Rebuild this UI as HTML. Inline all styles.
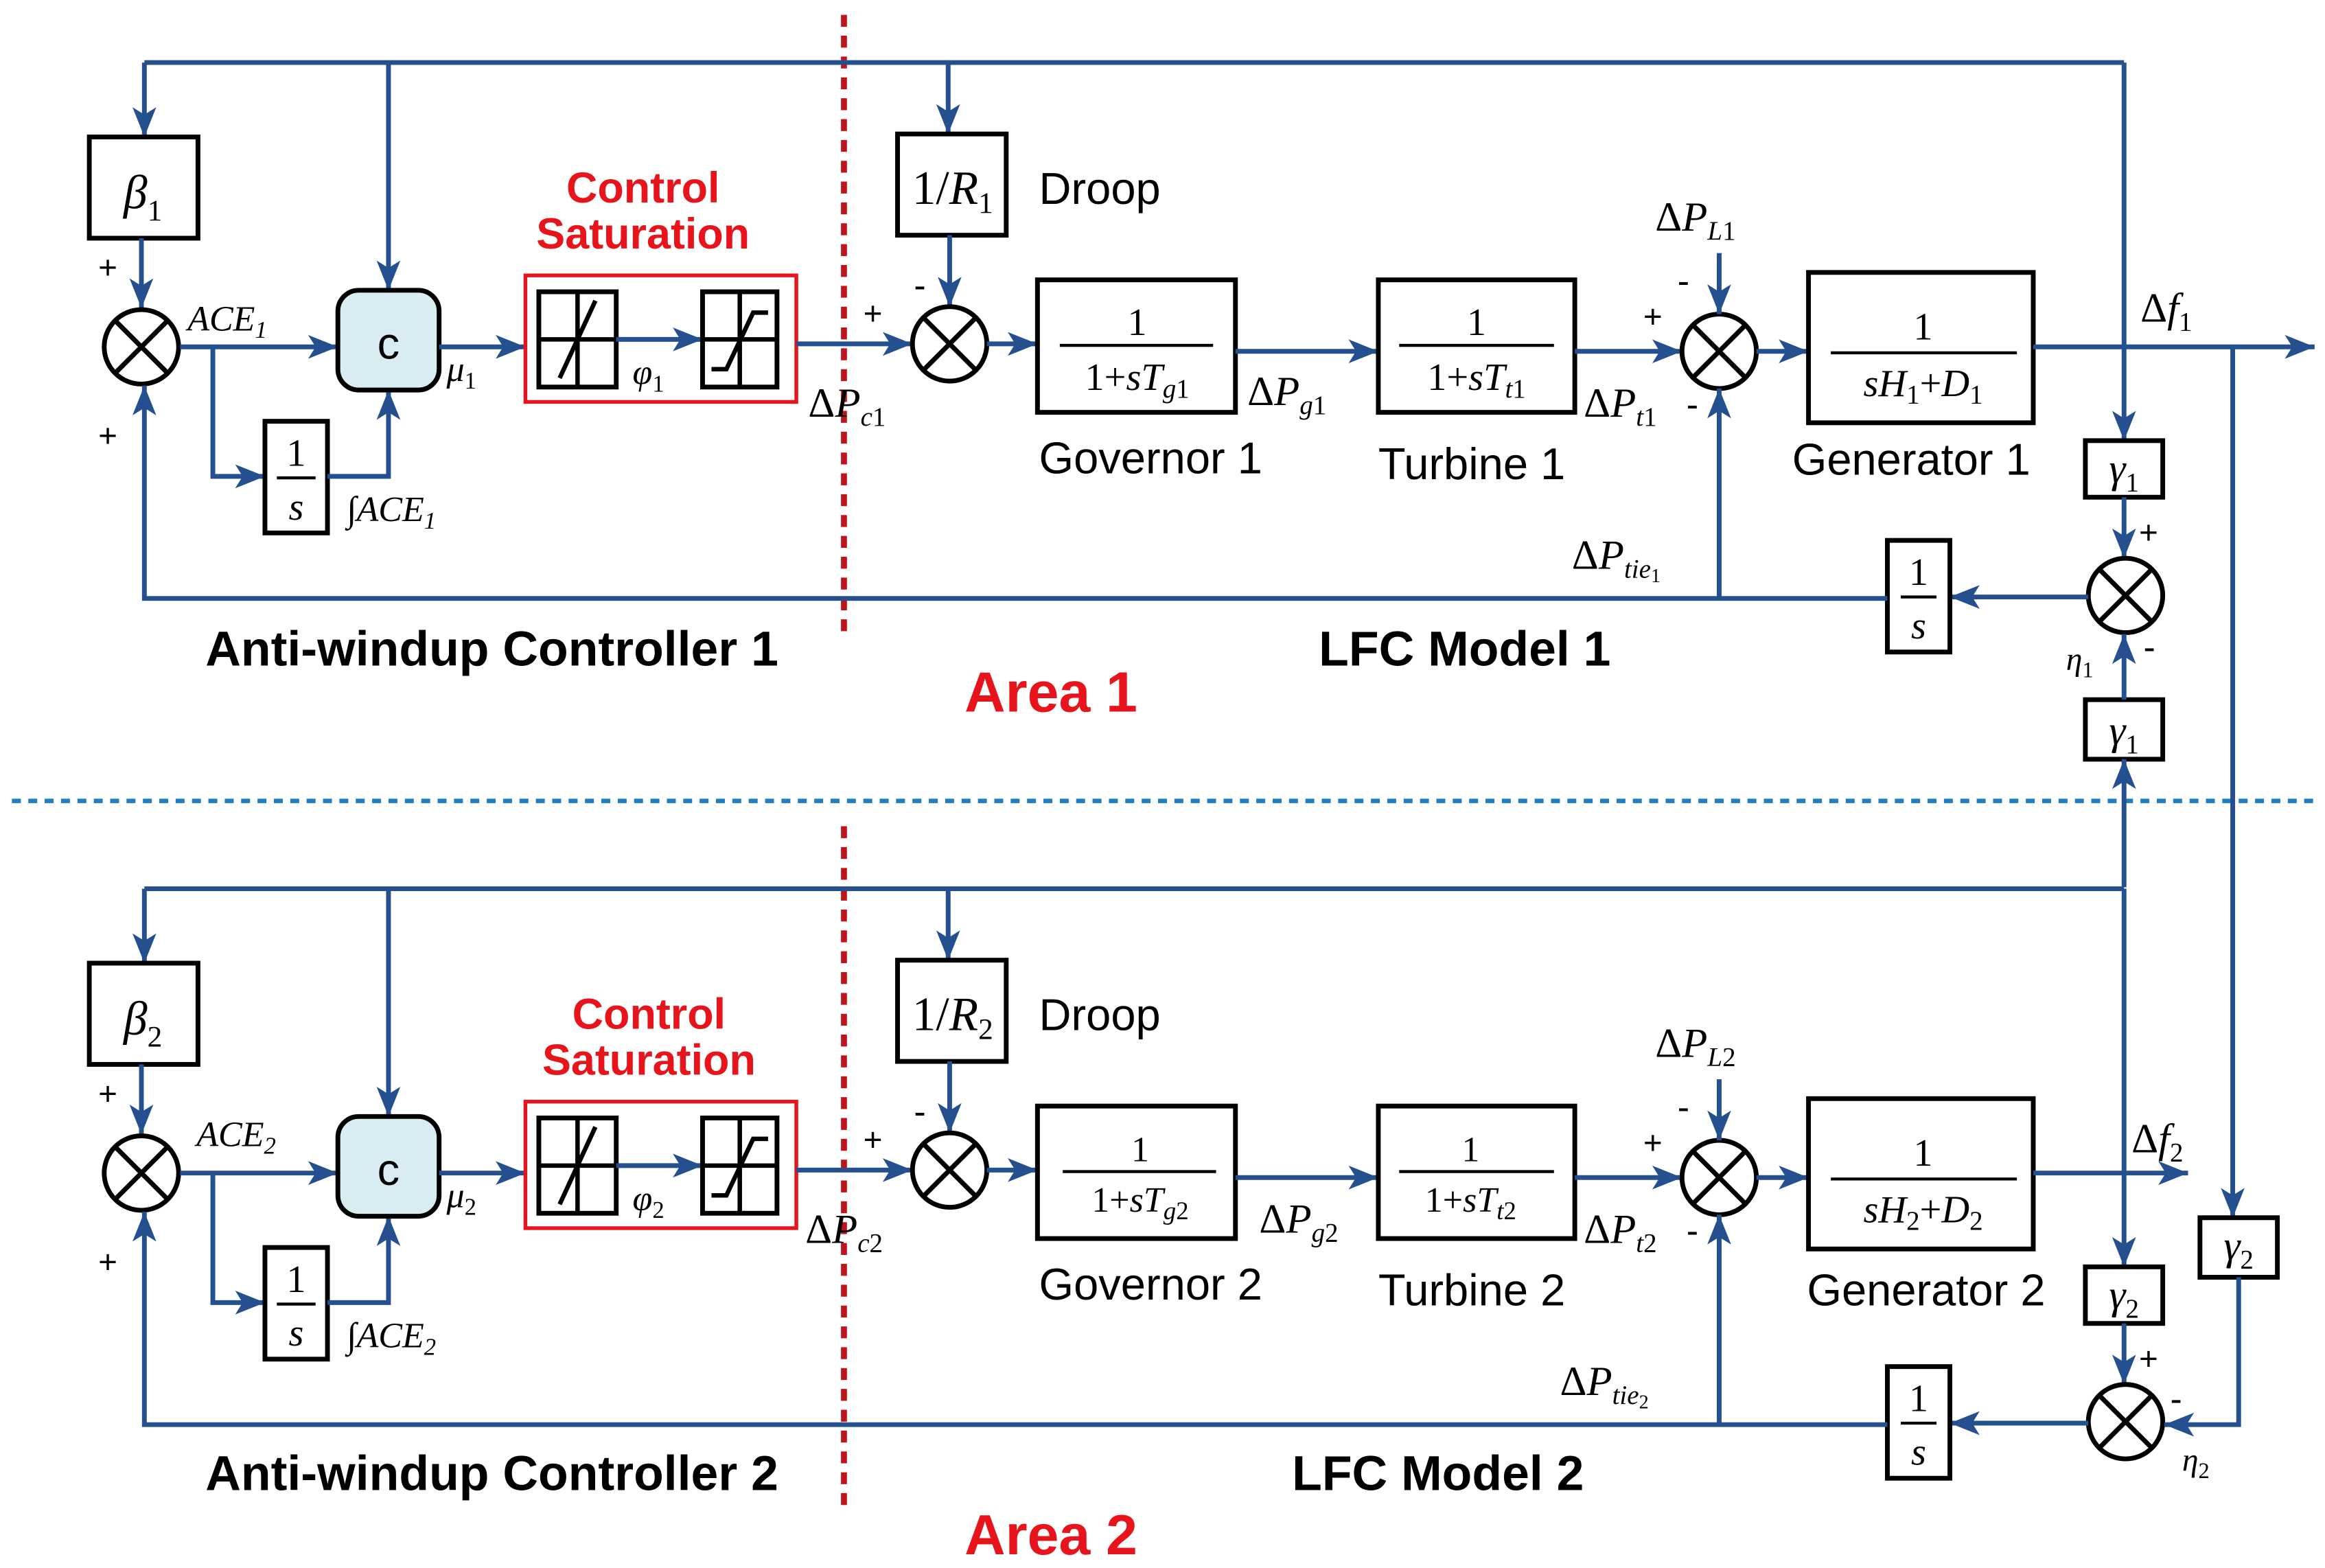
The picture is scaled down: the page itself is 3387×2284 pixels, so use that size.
<!DOCTYPE html>
<html><head><meta charset="utf-8"><style>
html,body{margin:0;padding:0;background:#fff;}
svg{display:block}
.b{stroke:#24508f;stroke-width:3.2;fill:none}
.k{stroke:#000;stroke-width:3.2;fill:#fff}
.m{font-family:"Liberation Serif",serif;font-style:italic;fill:#000}
.r{font-family:"Liberation Serif",serif;fill:#000}
.s{font-family:"Liberation Sans",sans-serif;fill:#000}
.bd{font-family:"Liberation Sans",sans-serif;font-weight:bold;fill:#000}
.red{font-family:"Liberation Sans",sans-serif;font-weight:bold;fill:#e8141c}
</style></head><body>
<svg width="3387" height="2284" viewBox="0 0 1562 1053.3" preserveAspectRatio="none" xmlns="http://www.w3.org/2000/svg">
<defs>
<marker id="a" markerUnits="userSpaceOnUse" markerWidth="22" markerHeight="18" refX="20" refY="9" orient="auto"><path d="M0,1 L20,9 L0,17 L5,9 Z" fill="#24508f"/></marker>
<g id="sum"><circle r="25" fill="#fff" stroke="#000" stroke-width="3.2"/><path d="M-17.7,-17.7 L17.7,17.7 M-17.7,17.7 L17.7,-17.7" stroke="#000" stroke-width="3.2"/></g>
<g id="area">
 <path class="b" d="M97,42 H1427"/>
 <path class="b" d="M97,42 V92" marker-end="url(#a)"/>
 <path class="b" d="M261,42 V195" marker-end="url(#a)"/>
 <path class="b" d="M637,42 V90" marker-end="url(#a)"/>
 <path class="b" d="M1427,42 V296" marker-end="url(#a)"/>
 <rect class="k" x="60" y="92" width="73" height="68"/>
 <path class="b" d="M95,160 V207" marker-end="url(#a)"/>
 <use href="#sum" x="95" y="233"/>
 <text class="s" x="66" y="187" font-size="22">+</text>
 <text class="s" x="66" y="300" font-size="22">+</text>
 <path class="b" d="M121,233 H227" marker-end="url(#a)"/>
 <path class="b" d="M143,233 V320 H178" marker-end="url(#a)"/>
 <rect class="k" x="178" y="283" width="42" height="75"/>
 <text class="r" x="199" y="313" font-size="26" text-anchor="middle">1</text>
 <path d="M186,321 H212" stroke="#000" stroke-width="2"/>
 <text class="m" x="199" y="349" font-size="26" text-anchor="middle">s</text>
 <path class="b" d="M220,320 H261 V262" marker-end="url(#a)"/>
 <rect x="227" y="195" width="68" height="67" rx="14" fill="#d8ecf2" stroke="#000" stroke-width="3.2"/>
 <text class="s" x="261" y="241" font-size="30" text-anchor="middle">c</text>
 <path class="b" d="M295,233 H353" marker-end="url(#a)"/>
 <rect x="353" y="185" width="182" height="85" fill="#fff" stroke="#e8141c" stroke-width="2.5"/>
 <rect class="k" x="362" y="196" width="52" height="64"/>
 <path d="M388,196 V260 M362,228 H414 M376,254 L400,202" stroke="#000" stroke-width="3" fill="none"/>
 <path class="b" d="M414,228 H472" marker-end="url(#a)"/>
 <rect class="k" x="472" y="196" width="50" height="64"/>
 <path d="M497,196 V260 M472,228 H522 M478,248 H488 L506,210 H516" stroke="#000" stroke-width="3" fill="none"/>
 <path class="b" d="M535,231 H613" marker-end="url(#a)"/>
 <text class="s" x="580" y="218" font-size="22">+</text>
 <rect class="k" x="603" y="90" width="73" height="68"/>
 <path class="b" d="M638,158 V206" marker-end="url(#a)"/>
 <text class="s" x="614" y="200" font-size="24">-</text>
 <use href="#sum" x="638" y="231"/>
 <text class="s" x="698" y="137" font-size="30">Droop</text>
 <path class="b" d="M663,231 H697" marker-end="url(#a)"/>
 <rect class="k" x="697" y="188" width="133" height="89"/>
 <path class="b" d="M830,236 H926" marker-end="url(#a)"/>
 <rect class="k" x="926" y="188" width="132" height="89"/>
 <path class="b" d="M1058,236 H1130" marker-end="url(#a)"/>
 <use href="#sum" x="1155" y="236"/>
 <path class="b" d="M1155,170 V211" marker-end="url(#a)"/>
 <text class="s" x="1127" y="197" font-size="24">-</text>
 <text class="s" x="1104" y="220" font-size="22">+</text>
 <text class="s" x="1133" y="280" font-size="24">-</text>
 <path class="b" d="M1180,236 H1215" marker-end="url(#a)"/>
 <rect class="k" x="1215" y="183" width="151" height="101"/>
 <rect class="k" x="1401" y="296" width="52" height="38"/>
 <path class="b" d="M1427,334 V375" marker-end="url(#a)"/>
 <text class="s" x="1437" y="365" font-size="22">+</text>
 <use href="#sum" x="1428" y="400"/>
 <path class="b" d="M1403,401 H1310" marker-end="url(#a)"/>
 <rect class="k" x="1268" y="363" width="42" height="75"/>
 <text class="r" x="1289" y="393" font-size="26" text-anchor="middle">1</text>
 <path d="M1277,401 H1301" stroke="#000" stroke-width="2"/>
 <text class="m" x="1289" y="429" font-size="26" text-anchor="middle">s</text>
 <path class="b" d="M1268,402 H97 V259" marker-end="url(#a)"/>
 <path class="b" d="M1155,402 V261" marker-end="url(#a)"/>
</g>
</defs>

<path d="M567,10 V430 M567,555 V1015" stroke="#c0141c" stroke-width="4" stroke-dasharray="8,6" fill="none"/>
<path d="M8,538 H1556" stroke="#1f7fc4" stroke-width="3" stroke-dasharray="6,5" fill="none"/>

<use href="#area"/>
<use href="#area" y="555"/>

<path class="b" d="M1366,233 H1555" marker-end="url(#a)"/>
<path class="b" d="M1500,233 V818" marker-end="url(#a)"/>
<rect class="k" x="1401" y="470" width="52" height="40"/>
<path class="b" d="M1427,470 V426" marker-end="url(#a)"/>
<path class="b" d="M1427,596 V510" marker-end="url(#a)"/>
<text class="s" x="1440" y="443" font-size="24">-</text>
<path class="b" d="M1366,788 H1470" marker-end="url(#a)"/>
<rect class="k" x="1478" y="818" width="52" height="40"/>
<path class="b" d="M1504,858 V957 H1454" marker-end="url(#a)"/>
<text class="s" x="1458" y="948" font-size="24">-</text>

<text class="m" x="96" y="140" font-size="32" text-anchor="middle">β<tspan font-size="20" font-style="normal" dy="8">1</tspan></text>
<text class="m" x="126" y="222" font-size="24">ACE<tspan font-size="16" dy="5">1</tspan></text>
<text class="m" x="300" y="256" font-size="24">μ<tspan font-size="16" font-style="normal" dy="5">1</tspan></text>
<text class="m" x="233" y="350" font-size="24">∫ACE<tspan font-size="16" dy="5">1</tspan></text>
<text class="m" x="425" y="258" font-size="24">φ<tspan font-size="16" font-style="normal" dy="5">1</tspan></text>
<text class="red" x="432" y="136" font-size="29" text-anchor="middle">Control</text>
<text class="red" x="432" y="167" font-size="29" text-anchor="middle">Saturation</text>
<text class="m" x="543" y="280" font-size="28"><tspan font-style="normal">Δ</tspan>P<tspan font-size="18" dy="6">c</tspan><tspan font-size="18" font-style="normal">1</tspan></text>
<text class="r" x="640" y="137" font-size="32" text-anchor="middle">1/<tspan font-style="italic">R</tspan><tspan font-size="20" dy="6">1</tspan></text>
<text class="r" x="764" y="225" font-size="26" text-anchor="middle">1</text>
<path d="M712,232 H815" stroke="#000" stroke-width="2"/>
<text class="r" x="764" y="262" font-size="26" text-anchor="middle">1+<tspan font-style="italic">sT</tspan><tspan font-size="18" font-style="italic" dy="5">g</tspan><tspan font-size="18">1</tspan></text>
<text class="m" x="838" y="272" font-size="28"><tspan font-style="normal">Δ</tspan>P<tspan font-size="18" dy="6">g</tspan><tspan font-size="18" font-style="normal">1</tspan></text>
<text class="s" x="698" y="318" font-size="30">Governor 1</text>
<text class="r" x="992" y="225" font-size="26" text-anchor="middle">1</text>
<path d="M940,232 H1044" stroke="#000" stroke-width="2"/>
<text class="r" x="992" y="262" font-size="26" text-anchor="middle">1+<tspan font-style="italic">sT</tspan><tspan font-size="18" font-style="italic" dy="5">t</tspan><tspan font-size="18">1</tspan></text>
<text class="s" x="926" y="322" font-size="30">Turbine 1</text>
<text class="m" x="1064" y="280" font-size="28"><tspan font-style="normal">Δ</tspan>P<tspan font-size="18" dy="6">t</tspan><tspan font-size="18" font-style="normal">1</tspan></text>
<text class="m" x="1112" y="155" font-size="28"><tspan font-style="normal">Δ</tspan>P<tspan font-size="18" dy="6">L</tspan><tspan font-size="18" font-style="normal">1</tspan></text>
<text class="r" x="1292" y="228" font-size="26" text-anchor="middle">1</text>
<path d="M1230,237 H1355" stroke="#000" stroke-width="2"/>
<text class="m" x="1292" y="266" font-size="26" text-anchor="middle">sH<tspan font-size="18" font-style="normal" dy="5">1</tspan><tspan dy="-5" font-style="normal">+</tspan>D<tspan font-size="18" font-style="normal" dy="5">1</tspan></text>
<text class="s" x="1204" y="319" font-size="30">Generator 1</text>
<text class="m" x="1438" y="216" font-size="28"><tspan font-style="normal">Δ</tspan>f<tspan font-size="18" font-style="normal" dy="6">1</tspan></text>
<text class="m" x="1427" y="324" font-size="28" text-anchor="middle">γ<tspan font-size="18" font-style="normal" dy="6">1</tspan></text>
<text class="m" x="1427" y="500" font-size="28" text-anchor="middle">γ<tspan font-size="18" font-style="normal" dy="6">1</tspan></text>
<text class="m" x="1388" y="450" font-size="22">η<tspan font-size="15" font-style="normal" dy="5">1</tspan></text>
<text class="m" x="1056" y="382" font-size="28"><tspan font-style="normal">Δ</tspan>P<tspan font-size="18" dy="6">tie</tspan><tspan font-size="13" font-style="normal" dy="3">1</tspan></text>
<text class="bd" x="138" y="447" font-size="33">Anti-windup Controller 1</text>
<text class="bd" x="886" y="447" font-size="33">LFC Model 1</text>
<text class="red" x="648" y="478" font-size="38">Area 1</text>

<text class="m" x="96" y="695" font-size="32" text-anchor="middle">β<tspan font-size="20" font-style="normal" dy="8">2</tspan></text>
<text class="m" x="132" y="770" font-size="24">ACE<tspan font-size="16" dy="5">2</tspan></text>
<text class="m" x="300" y="811" font-size="24">μ<tspan font-size="16" font-style="normal" dy="5">2</tspan></text>
<text class="m" x="233" y="905" font-size="24">∫ACE<tspan font-size="16" dy="5">2</tspan></text>
<text class="m" x="425" y="813" font-size="24">φ<tspan font-size="16" font-style="normal" dy="5">2</tspan></text>
<text class="red" x="436" y="691" font-size="29" text-anchor="middle">Control</text>
<text class="red" x="436" y="722" font-size="29" text-anchor="middle">Saturation</text>
<text class="m" x="541" y="835" font-size="28"><tspan font-style="normal">Δ</tspan>P<tspan font-size="18" dy="6">c</tspan><tspan font-size="18" font-style="normal">2</tspan></text>
<text class="r" x="640" y="692" font-size="32" text-anchor="middle">1/<tspan font-style="italic">R</tspan><tspan font-size="20" dy="6">2</tspan></text>
<text class="r" x="766" y="780" font-size="24" text-anchor="middle">1</text>
<path d="M714,787 H817" stroke="#000" stroke-width="2"/>
<text class="r" x="766" y="814" font-size="24" text-anchor="middle">1+<tspan font-style="italic">sT</tspan><tspan font-size="17" font-style="italic" dy="5">g</tspan><tspan font-size="17">2</tspan></text>
<text class="m" x="846" y="828" font-size="28"><tspan font-style="normal">Δ</tspan>P<tspan font-size="18" dy="6">g</tspan><tspan font-size="18" font-style="normal">2</tspan></text>
<text class="s" x="698" y="873" font-size="30">Governor 2</text>
<text class="r" x="988" y="780" font-size="24" text-anchor="middle">1</text>
<path d="M940,787 H1044" stroke="#000" stroke-width="2"/>
<text class="r" x="988" y="814" font-size="24" text-anchor="middle">1+<tspan font-style="italic">sT</tspan><tspan font-size="17" font-style="italic" dy="5">t</tspan><tspan font-size="17">2</tspan></text>
<text class="s" x="926" y="877" font-size="30">Turbine 2</text>
<text class="m" x="1064" y="835" font-size="28"><tspan font-style="normal">Δ</tspan>P<tspan font-size="18" dy="6">t</tspan><tspan font-size="18" font-style="normal">2</tspan></text>
<text class="m" x="1112" y="710" font-size="28"><tspan font-style="normal">Δ</tspan>P<tspan font-size="18" dy="6">L</tspan><tspan font-size="18" font-style="normal">2</tspan></text>
<text class="r" x="1292" y="783" font-size="26" text-anchor="middle">1</text>
<path d="M1230,792 H1355" stroke="#000" stroke-width="2"/>
<text class="m" x="1292" y="821" font-size="26" text-anchor="middle">sH<tspan font-size="18" font-style="normal" dy="5">2</tspan><tspan dy="-5" font-style="normal">+</tspan>D<tspan font-size="18" font-style="normal" dy="5">2</tspan></text>
<text class="s" x="1214" y="877" font-size="30">Generator 2</text>
<text class="m" x="1432" y="774" font-size="28"><tspan font-style="normal">Δ</tspan>f<tspan font-size="18" font-style="normal" dy="6">2</tspan></text>
<text class="m" x="1427" y="879" font-size="28" text-anchor="middle">γ<tspan font-size="18" font-style="normal" dy="6">2</tspan></text>
<text class="m" x="1504" y="846" font-size="28" text-anchor="middle">γ<tspan font-size="18" font-style="normal" dy="6">2</tspan></text>
<text class="m" x="1466" y="988" font-size="22">η<tspan font-size="15" font-style="normal" dy="5">2</tspan></text>
<text class="m" x="1048" y="937" font-size="28"><tspan font-style="normal">Δ</tspan>P<tspan font-size="18" dy="6">tie</tspan><tspan font-size="13" font-style="normal" dy="3">2</tspan></text>
<text class="bd" x="138" y="1001" font-size="33">Anti-windup Controller 2</text>
<text class="bd" x="868" y="1001" font-size="33">LFC Model 2</text>
<text class="red" x="648" y="1044" font-size="38">Area 2</text>
</svg>
</body></html>
